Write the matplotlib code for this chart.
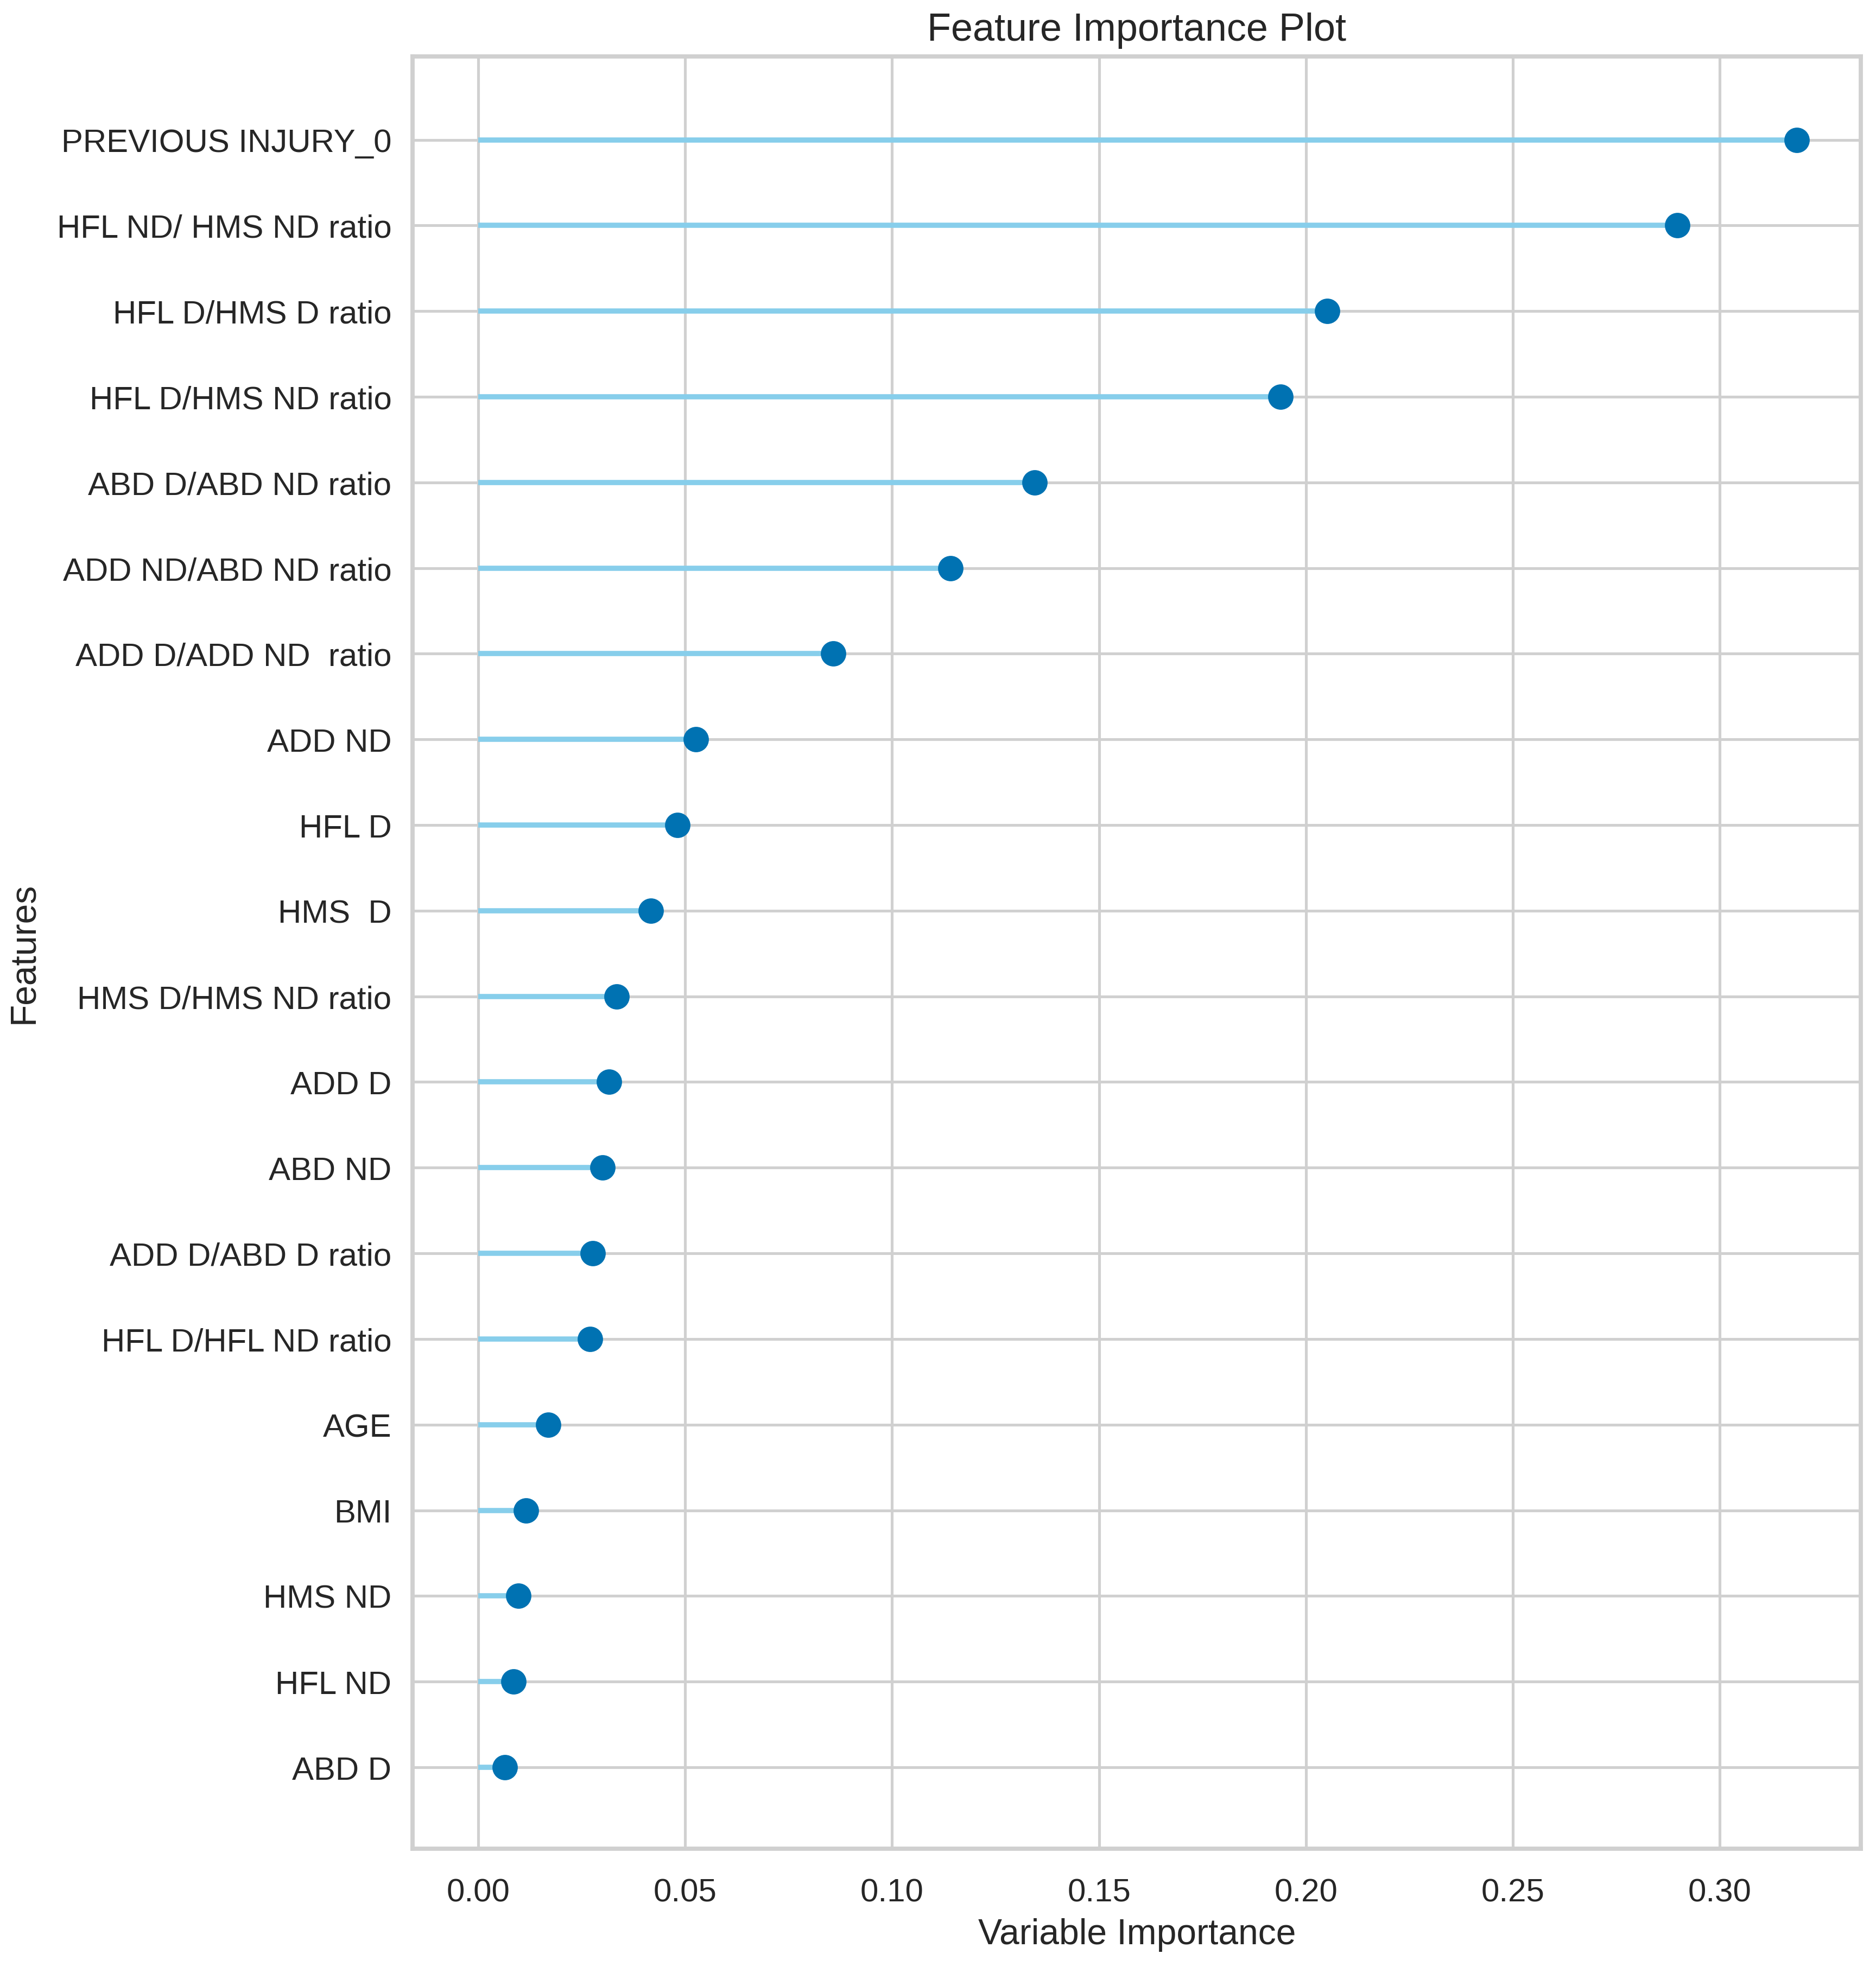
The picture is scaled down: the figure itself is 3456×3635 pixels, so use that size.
import matplotlib
matplotlib.use("Agg")
import matplotlib.pyplot as plt

# feature importance values, bottom row first
features = ["ABD D", "HFL ND", "HMS ND", "BMI", "AGE", "HFL D/HFL ND ratio",
            "ADD D/ABD D ratio", "ABD ND", "ADD D", "HMS D/HMS ND ratio",
            "HMS  D", "HFL D", "ADD ND", "ADD D/ADD ND  ratio",
            "ADD ND/ABD ND ratio", "ABD D/ABD ND ratio", "HFL D/HMS ND ratio",
            "HFL D/HMS D ratio", "HFL ND/ HMS ND ratio", "PREVIOUS INJURY_0"]
importance = [0.0064, 0.0085, 0.0097, 0.0116, 0.0170, 0.0271,
              0.0277, 0.0301, 0.0316, 0.0335,
              0.0417, 0.0481, 0.0526, 0.0858,
              0.1141, 0.1345, 0.1939,
              0.2051, 0.2897, 0.3186]
xticks = [0.00, 0.05, 0.10, 0.15, 0.20, 0.25, 0.30]

plt.rcParams['font.family'] = ['Liberation Sans', 'DejaVu Sans']
text_color = '#262626'

fig = plt.figure(figsize=(8, 3636 / 432), dpi=432)
ax = fig.add_axes([0.220, 0.063, 0.772, 0.908])

pos = list(range(1, len(features) + 1))
ax.hlines(y=pos, xmin=0, xmax=importance, color='skyblue', linewidth=1.6, zorder=2)
ax.plot(importance, pos, 'o', color='#0072B2', markersize=6.8, zorder=3)

ax.set_yticks(pos)
ax.set_yticklabels(features)
ax.set_xticks(xticks)
ax.set_xticklabels(["%.2f" % t for t in xticks])
ax.set_xlim(-0.0158, 0.3341)
ax.set_ylim(0.05, len(features) + 0.97)

ax.grid(True, color='#d0d0d0', linewidth=0.85, zorder=0)
ax.set_axisbelow(True)
for s in ax.spines.values():
    s.set_color('#d0d0d0')
    s.set_linewidth(1.3)
ax.tick_params(axis='both', length=0, colors=text_color, labelsize=10)
ax.tick_params(axis='x', pad=9)
ax.tick_params(axis='y', pad=6.5)

ax.set_title('Feature Importance Plot', fontsize=12, color=text_color, pad=5)
ax.set_xlabel('Variable Importance', fontsize=11, color=text_color, labelpad=3)
ax.set_ylabel('Features', fontsize=11, color=text_color)
ax.yaxis.set_label_coords(-0.257, 0.5)

fig.savefig('out.png', dpi=432, facecolor='white')
